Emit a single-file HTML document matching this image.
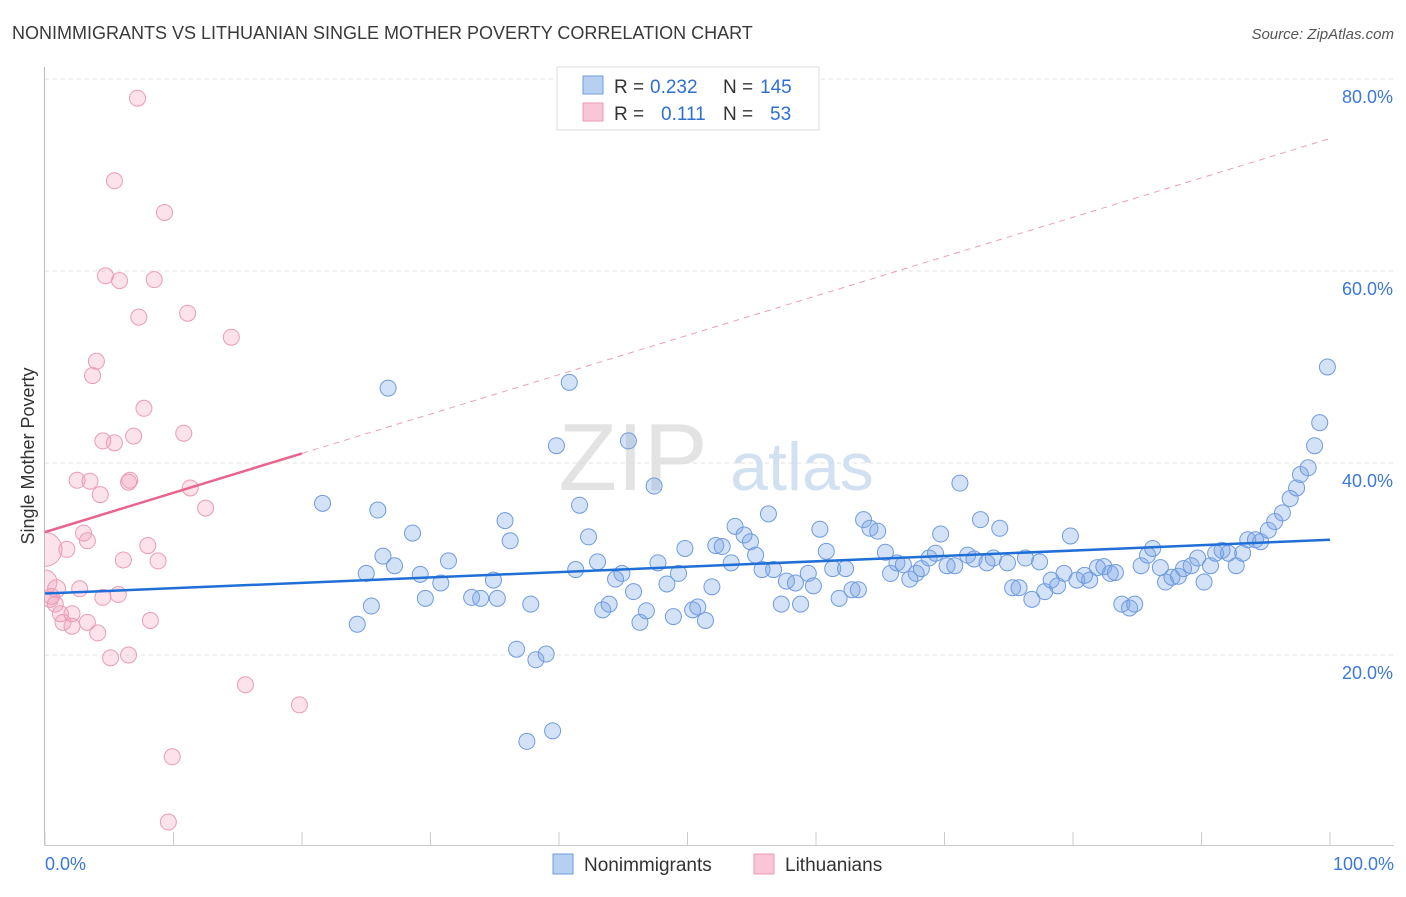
<!DOCTYPE html>
<html><head><meta charset="utf-8"><style>
body{margin:0;background:#fff;font-family:"Liberation Sans",sans-serif;}
svg text{font-family:"Liberation Sans",sans-serif;}
</style></head><body>
<svg id="chart" width="1406" height="892" viewBox="0 0 1406 892" xmlns="http://www.w3.org/2000/svg">
<defs><clipPath id="plotclip"><rect x="45" y="60" width="1360" height="786"/></clipPath></defs>
<text x="12" y="39" font-size="18" fill="#3a3a3a">NONIMMIGRANTS VS LITHUANIAN SINGLE MOTHER POVERTY CORRELATION CHART</text>
<text x="1394" y="39" font-size="15" fill="#555" font-style="italic" text-anchor="end">Source: ZipAtlas.com</text>
<text transform="translate(34,456) rotate(-90)" font-size="18" fill="#333" text-anchor="middle">Single Mother Poverty</text>
<g id="grid"></g>
<g id="wm"><text x="633" y="490" font-size="96" fill="#ddd" font-family="Liberation Serif" text-anchor="middle" opacity="0.8">ZIP</text><text x="802" y="490" font-size="68" fill="#c8daf0" text-anchor="middle" opacity="0.8">atlas</text></g>
<g id="axes"></g>
<g id="pinkpts" clip-path="url(#plotclip)"></g>
<g id="bluepts"></g>
<g id="lines"></g>
<g>
<rect x="557" y="67" width="262" height="63" fill="#fff" stroke="#ddd"/>
<rect x="583" y="76" width="20" height="18" fill="#b7d0f2" stroke="#6f9be0"/>
<rect x="583" y="103" width="20" height="18" fill="#f8c6d6" stroke="#ec9ab5"/>
<text x="614" y="93" font-size="19" fill="#333">R =</text>
<text x="650" y="93" font-size="19" fill="#2f6fd0">0.232</text>
<text x="723" y="93" font-size="19" fill="#333">N =</text>
<text x="760" y="93" font-size="19" fill="#2f6fd0">145</text>
<text x="614" y="120" font-size="19" fill="#333">R =</text>
<text x="661" y="120" font-size="19" fill="#2f6fd0">0.111</text>
<text x="723" y="120" font-size="19" fill="#333">N =</text>
<text x="770" y="120" font-size="19" fill="#2f6fd0">53</text>
</g>
<g>
<rect x="553" y="854" width="20" height="20" fill="#b7d0f2" stroke="#6f9be0"/>
<text x="584" y="871" font-size="19" fill="#333">Nonimmigrants</text>
<rect x="754" y="854" width="20" height="20" fill="#f8c6d6" stroke="#ec9ab5"/>
<text x="785" y="871" font-size="19" fill="#333">Lithuanians</text>
</g>
</svg>
<script>
const blueX=[21.6,26.7,25.9,25.0,24.3,25.4,26.3,27.2,28.6,29.2,29.6,30.8,31.4,33.2,33.9,34.9,35.2,35.8,36.2,36.7,37.8,38.2,39.0,37.5,39.5,39.8,40.8,41.6,42.3,41.3,43.0,43.4,43.9,44.4,44.9,45.4,45.8,46.3,46.8,47.4,47.7,48.4,48.9,49.3,49.8,50.4,50.8,51.4,51.9,52.2,52.7,53.4,53.7,54.4,54.9,55.3,55.8,56.3,56.7,57.3,57.7,58.4,58.8,59.4,59.8,60.3,60.8,61.3,61.8,62.3,62.8,63.3,63.7,64.2,64.8,65.4,65.8,66.3,66.8,67.3,67.8,68.2,68.8,69.3,69.7,70.2,70.8,71.2,71.8,72.3,72.8,73.3,73.8,74.3,74.9,75.3,75.8,76.3,76.8,77.4,77.8,78.3,78.8,79.3,79.8,80.3,80.9,81.3,81.9,82.4,82.9,83.3,83.8,84.4,84.8,85.3,85.8,86.2,86.8,87.2,87.7,88.2,88.6,89.2,89.7,90.2,90.7,91.1,91.6,92.1,92.7,93.2,93.6,94.2,94.6,95.2,95.7,96.3,96.9,97.4,97.7,98.3,98.8,99.2,99.8];
const blueY=[35.8,47.8,35.1,28.5,23.2,25.1,30.3,29.3,32.7,28.4,25.9,27.5,29.8,26.0,25.9,27.8,25.9,34.0,31.9,20.6,25.3,19.5,20.1,11.0,12.1,41.8,48.4,35.6,32.3,28.9,29.7,24.7,25.3,27.9,28.5,42.3,26.6,23.4,24.6,37.6,29.6,27.4,24.0,28.5,31.1,24.7,25.0,23.6,27.1,31.4,31.3,29.6,33.4,32.5,31.8,30.4,28.9,34.7,28.9,25.3,27.7,27.5,25.3,28.5,27.2,33.1,30.8,29.0,25.9,29.0,26.8,26.8,34.1,33.2,32.9,30.7,28.5,29.6,29.4,27.9,28.5,29.0,30.1,30.6,32.6,29.3,29.3,37.9,30.4,30.0,34.1,29.6,30.1,33.2,29.6,27.0,27.0,30.1,25.8,29.7,26.6,27.8,27.2,28.5,32.4,27.8,28.3,27.8,29.1,29.2,28.5,28.6,25.3,24.9,25.3,29.3,30.4,31.1,29.1,27.6,28.1,28.2,29.0,29.3,30.1,27.6,29.3,30.6,30.9,30.6,29.3,30.6,32.0,32.0,31.8,33.0,33.9,34.8,36.3,37.4,38.8,39.5,41.8,44.2,50.0];
const pinkX=[7.2,5.4,9.3,4.7,5.8,8.5,7.3,11.1,14.5,4.0,3.7,7.7,4.5,5.4,6.9,10.8,2.5,3.5,6.6,6.5,4.3,11.3,12.5,3.0,3.3,1.7,8.0,6.1,8.8,0.0,0.0,0.9,2.7,0.5,4.5,5.7,0.8,1.2,2.1,1.4,2.1,3.3,8.2,4.1,5.1,6.5,15.6,19.8,9.9,9.6,0.4];
const pinkY=[78.0,69.4,66.1,59.5,59.0,59.1,55.2,55.6,53.1,50.6,49.1,45.7,42.3,42.1,42.8,43.1,38.2,38.1,38.2,38.0,36.7,37.4,35.3,32.7,31.9,31.0,31.4,29.9,29.8,31.0,27.6,26.9,26.9,26.1,26.0,26.3,25.3,24.3,24.3,23.4,23.0,23.4,23.6,22.3,19.7,20.0,16.9,14.8,9.4,2.6,25.8];
const pinkR=[8,8,8,8,8,8,8,8,8,8,8,8,8,8,8,8,8,8,8,8,8,8,8,8,8,8,8,8,8,17,12,9,8,8,8,8,8,8,8,8,8,8,8,8,8,8,8,8,8,8,8];
const yTicks=[20,40,60,80];
const yTickLabels=["20.0%","40.0%","60.0%","80.0%"];
const blueTrend=[26.4,32.0];
const pinkTrend=[32.8,73.8];
const NS="http://www.w3.org/2000/svg";
const X0=45,X1=1330,Y0=847,PX=9.6;
function sx(v){return X0+(X1-X0)*v/100;}
function sy(v){return Y0-v*PX;}
function mk(tag,attrs,parent){const e=document.createElementNS(NS,tag);for(const k in attrs)e.setAttribute(k,attrs[k]);parent.appendChild(e);return e;}
const grid=document.getElementById('grid');
yTicks.forEach((t,i)=>{
  const l=mk('line',{x1:45,x2:1394,y1:sy(t),y2:sy(t),stroke:'#e2e2e2','stroke-dasharray':'4,4'},grid);
  
  
  const tx=mk('text',{x:1393,y:sy(t)+24,'font-size':18,fill:'#3b78d8','text-anchor':'end'},grid);
  tx.textContent=yTickLabels[i];
  
  
});
const axes=document.getElementById('axes');
mk('line',{x1:44.5,x2:44.5,y1:67,y2:845,stroke:'#bbb'},axes);
mk('line',{x1:44,x2:1394,y1:845.5,y2:845.5,stroke:'#ccc'},axes);
for(let i=0;i<=10;i++){const x=sx(i*10);const tk=mk('line',{x1:x,x2:x,y1:832,y2:845,stroke:'#ccc'},axes);
  
  }
const xl=mk('text',{x:45,y:870,'font-size':18,fill:'#3b78d8'},axes);xl.textContent='0.0%';


const xr=mk('text',{x:1394,y:870,'font-size':18,fill:'#3b78d8','text-anchor':'end'},axes);xr.textContent='100.0%';


const pp=document.getElementById('pinkpts');
pinkX.forEach((v,i)=>{const c=mk('circle',{cx:sx(v),cy:sy(pinkY[i]),r:pinkR[i],fill:'rgba(243,160,190,0.3)',stroke:'#eb9bb6','stroke-width':1},pp);
  
  });
const bp=document.getElementById('bluepts');
blueX.forEach((v,i)=>{const c=mk('circle',{cx:sx(v),cy:sy(blueY[i]),r:8,fill:'rgba(120,165,230,0.32)',stroke:'#6f9be0','stroke-width':1},bp);
  
  });
const ln=document.getElementById('lines');
const bl=mk('line',{x1:sx(0),y1:sy(blueTrend[0]),x2:sx(100),y2:sy(blueTrend[1]),stroke:'#1f6fd6','stroke-width':2.5},ln);


const pm=pinkTrend[0]+(pinkTrend[1]-pinkTrend[0])*0.2;
const pl=mk('line',{x1:sx(0),y1:sy(pinkTrend[0]),x2:sx(20),y2:sy(pm),stroke:'#e8648c','stroke-width':2.5},ln);


const pd=mk('line',{x1:sx(20),y1:sy(pm),x2:sx(100),y2:sy(pinkTrend[1]),stroke:'#eaa0b8','stroke-width':1,'stroke-dasharray':'6,5'},ln);


</script>
</body></html>
